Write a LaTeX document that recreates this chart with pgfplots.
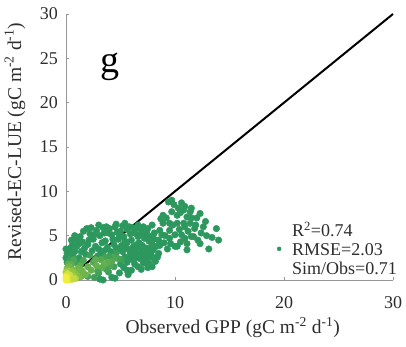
\documentclass[border=0pt]{standalone}
\usepackage{fontspec}
\setmainfont{Liberation Serif}
\usepackage{pgfplots}
\usepackage{pgfplotstable}
\pgfplotsset{compat=1.18}

\definecolor{ptgreen}{RGB}{44,152,94}
\definecolor{axisgray}{RGB}{150,150,150}
\definecolor{labelgray}{RGB}{45,45,45}

% daily GPP: observed (x), simulated (y), point density (c)
\pgfplotstableread{
x y c
9.4 8.8 0
9.7 9.0 0
8.9 7.3 0
9.7 7.7 0
10.2 7.3 0
10.9 8.3 0
11.4 7.7 0
11.5 8.1 0
12.3 7.5 0
12.8 6.6 0
13.8 5.8 0
14.0 4.5 0
13.1 3.5 0
12.4 5.3 0
11.7 4.9 0
10.6 5.1 0
10.8 6.4 0
10.2 6.4 0
9.5 6.4 0
8.9 6.4 0
8.6 5.6 0
9.5 5.6 0
10.0 5.1 0
9.5 4.7 0
10.5 4.3 0
11.1 4.1 0
10.2 3.8 0
12.1 4.5 0
12.3 4.1 0
8.5 4.5 0
8.3 3.8 0
11.1 7.1 0
11.5 7.0 0
10.8 7.9 0
10.3 8.1 0
9.8 6.2 0
10.9 6.0 0
11.5 4.9 0
11.1 3.4 0
10.0 3.8 0
8.6 3.9 0
8.5 3.0 0
10.5 7.6 0
9.9 8.5 0
11.9 6.2 0
12.6 6.0 0
12.0 7.0 0
10.4 5.7 0
11.2 5.5 0
9.1 5.0 0
10.9 4.7 0
9.2 7.0 0
8.7 6.9 0
10.6 8.7 0
11.8 5.8 0
9.6 4.1 0
13.4 4.8 0
12.9 5.0 0
11.4 6.4 0
9.0 4.2 0
8.8 5.1 0
9.3 3.5 0
8.1 5.3 0
7.9 6.2 0
8.4 2.6 0
1.3 4.9 0
1.9 5.8 0
1.5 4.3 0
2.2 5.2 0
2.5 4.6 0
2.8 5.6 0
3.1 5.0 0
3.4 5.9 0
3.6 4.4 0
4.0 5.8 0
4.5 6.0 0
4.2 5.1 0
4.8 4.6 0
5.0 5.5 0
5.3 4.9 0
5.6 5.7 0
5.9 5.2 0
6.0 4.5 0
6.3 5.3 0
6.6 4.9 0
6.9 5.6 0
7.2 4.7 0
2.0 4.0 0
2.7 3.8 0
3.3 4.2 0
1.7 3.6 0
2.4 3.3 0
3.0 3.5 0
3.8 3.7 0
4.4 4.0 0
5.1 3.9 0
5.6 4.2 0
6.2 3.8 0
6.7 4.2 0
7.0 3.9 0
7.4 5.4 0
1.6 5.5 0
2.1 4.5 0
3.9 5.3 0
4.7 5.4 0
5.8 6.0 0
6.4 5.8 0
7.6 4.4 0
3.2 3.0 0
2.9 2.7 0
1.0 4.5 0
0.6 4.0 0
1.2 4.1 0
2.6 5.1 0
3.5 5.3 0
4.3 4.6 0
4.9 5.0 0
5.4 4.4 0
5.2 6.1 0
6.1 5.9 0
6.8 5.1 0
7.3 5.0 0
7.8 4.9 0
7.9 4.0 0
8.1 4.6 0
7.7 3.5 0
6.5 4.0 0
0.8 5.0 0
2.3 5.9 0
3.0 6.2 0
3.7 6.0 0
4.6 6.3 0
5.4 6.4 0
6.6 6.2 0
7.1 6.0 0
7.5 5.8 0
3.5 3.3 0
4.1 3.2 0
4.6 3.6 0
5.3 3.5 0
5.9 3.0 0
6.1 3.6 0
6.9 3.6 0
7.3 3.2 0
7.8 2.9 0
8.0 2.5 0
0.1 2.0 0
0.0 2.5 0
0.1 3.0 0
0.4 3.6 0
0.8 3.2 0
0.3 2.2 0.1
0.6 2.7 0
0.9 2.0 0.1
1.2 2.5 0
1.0 3.8 0
1.4 3.2 0
1.8 2.9 0
1.5 2.1 0.1
0.3 3.3 0
0.0 3.5 0
0.5 4.5 0
5.0 1.8 0
5.4 2.6 0
5.6 2.0 0
5.8 3.4 0
6.0 2.8 0
6.2 2.2 0
6.4 3.5 0
6.6 2.9 0
6.8 2.4 0
7.0 3.3 0
7.2 2.8 0
7.4 3.6 0
7.6 1.9 0
7.9 1.5 0
8.2 2.1 0
6.6 1.5 0
5.7 0.6 0
4.5 0.2 0
3.4 0.0 0
3.1 0.1 0
4.2 0.3 0
5.5 3.7 0
6.3 3.3 0
7.1 1.9 0
7.6 2.6 0
8.0 3.4 0
5.3 1.4 0
6.0 1.1 0
7.5 1.4 0
5.9 2.4 0
6.5 2.6 0
7.3 2.2 0
6.9 3.0 0
4.9 3.5 0
5.6 1.1 0
6.3 1.8 0
6.9 1.2 0
4.9 0.8 0
4.4 1.5 0.1
4.6 3.0 0.1
5.2 3.2 0
2.6 0.3 0.1
3.9 0.9 0.1
5.1 2.3 0.1
3.0 0.8 0.1
3.7 1.2 0.15
4.0 2.7 0.1
4.8 2.4 0.15
2.2 2.8 0.1
3.6 2.6 0.15
2.0 0.4 0.15
2.9 1.0 0.15
4.1 1.6 0.2
4.5 2.5 0.2
2.5 2.0 0.25
3.2 2.3 0.25
4.2 2.1 0.25
1.6 2.2 0.2
2.7 2.3 0.3
3.8 2.0 0.3
0.7 2.3 0.2
0.5 1.7 0.3
1.3 1.6 0.3
0.2 1.8 0.3
2.8 1.6 0.35
3.5 1.8 0.35
3.3 1.4 0.3
2.0 1.5 0.35
2.3 1.1 0.35
1.1 1.3 0.4
1.5 1.0 0.4
1.8 0.6 0.4
1.4 0.4 0.4
1.1 0.9 0.45
0.3 1.5 0.45
0.8 0.8 0.55
0.1 1.3 0.5
1.0 0.5 0.55
0.65 1.1 0.5
1.2 0.3 0.5
0.5 0.6 0.7
0.25 1.0 0.65
0.7 0.4 0.7
0.9 0.2 0.65
0.55 0.9 0.6
0.0 0.9 0.7
0.05 0.1 1
0.1 0.3 0.95
0.2 0.05 1
0.3 0.4 0.9
0.15 0.7 0.85
0.4 0.2 0.9
0.6 0.1 0.85
0.35 0.55 0.85
0.2 0.2 1
0.45 0.05 0.9
0.05 0.5 0.9
0.75 0.15 0.8
0.0 0.0 1
0.0 0.3 1
}\gppdata

\begin{document}
\begin{tikzpicture}
\begin{axis}[
  scale only axis,
  width=327pt, height=266pt,
  xmin=0, xmax=30, ymin=0, ymax=30,
  axis x line*=bottom, axis y line*=left,
  axis line style={draw=axisgray, line width=0.8pt},
  xtick={0,10,20,30}, ytick={0,5,...,30},
  tick align=inside, major tick length=3pt,
  tick style={draw=axisgray, line width=0.6pt},
  tick label style={font=\fontsize{18}{18}\selectfont, text=labelgray, inner sep=0pt},
  xticklabel style={anchor=base, yshift=-29pt},
  yticklabel style={anchor=east, xshift=-8pt},
  /pgf/number format/assume math mode=true,
  xlabel={Observed GPP (gC m\textsuperscript{-2} d\textsuperscript{-1})},
  ylabel={Revised-EC-LUE (gC m\textsuperscript{-2} d\textsuperscript{-1})},
  every axis x label/.style={at={(rel axis cs:0.51,0)}, anchor=base, yshift=-54pt},
  every axis y label/.style={at={(rel axis cs:0,0.52)}, anchor=center, rotate=90, yshift=51pt},
  label style={font=\fontsize{19.5}{20}\selectfont, text=labelgray},
  clip=false,
  colormap={density}{rgb255=(44,152,94) rgb255=(125,188,72) rgb255=(242,238,60)},
  point meta min=0, point meta max=1,
  legend style={at={(rel axis cs:0.645,0.117)}, anchor=west, draw=none, fill=none,
    inner sep=0pt, column sep=9pt, font=\fontsize{18}{19}\selectfont, text=labelgray,
    cells={align=left}},
]
\coordinate (O) at (rel axis cs:0,0);

\addlegendimage{only marks, mark=*, mark size=2pt, ptgreen}
\addlegendentry{R\textsuperscript{2}=0.74\\RMSE=2.03\\Sim/Obs=0.71}

\addplot[scatter, only marks, mark=*, mark size=3.3pt,
  scatter src=explicit,
  scatter/use mapped color={draw=mapped color, fill=mapped color},
  forget plot]
  table[x=x, y=y, meta=c] {\gppdata};

% 1:1 line
\addplot[black, line width=2pt, forget plot] coordinates {(0,0) (30,30)};

\node[anchor=base, font=\fontsize{38}{38}\selectfont] at (axis cs:4,23.4) {g};
\end{axis}
\pgfresetboundingbox
\path ([shift={(-66pt,-67pt)}]O) rectangle ([shift={(340pt,280pt)}]O);
\end{tikzpicture}
\end{document}
